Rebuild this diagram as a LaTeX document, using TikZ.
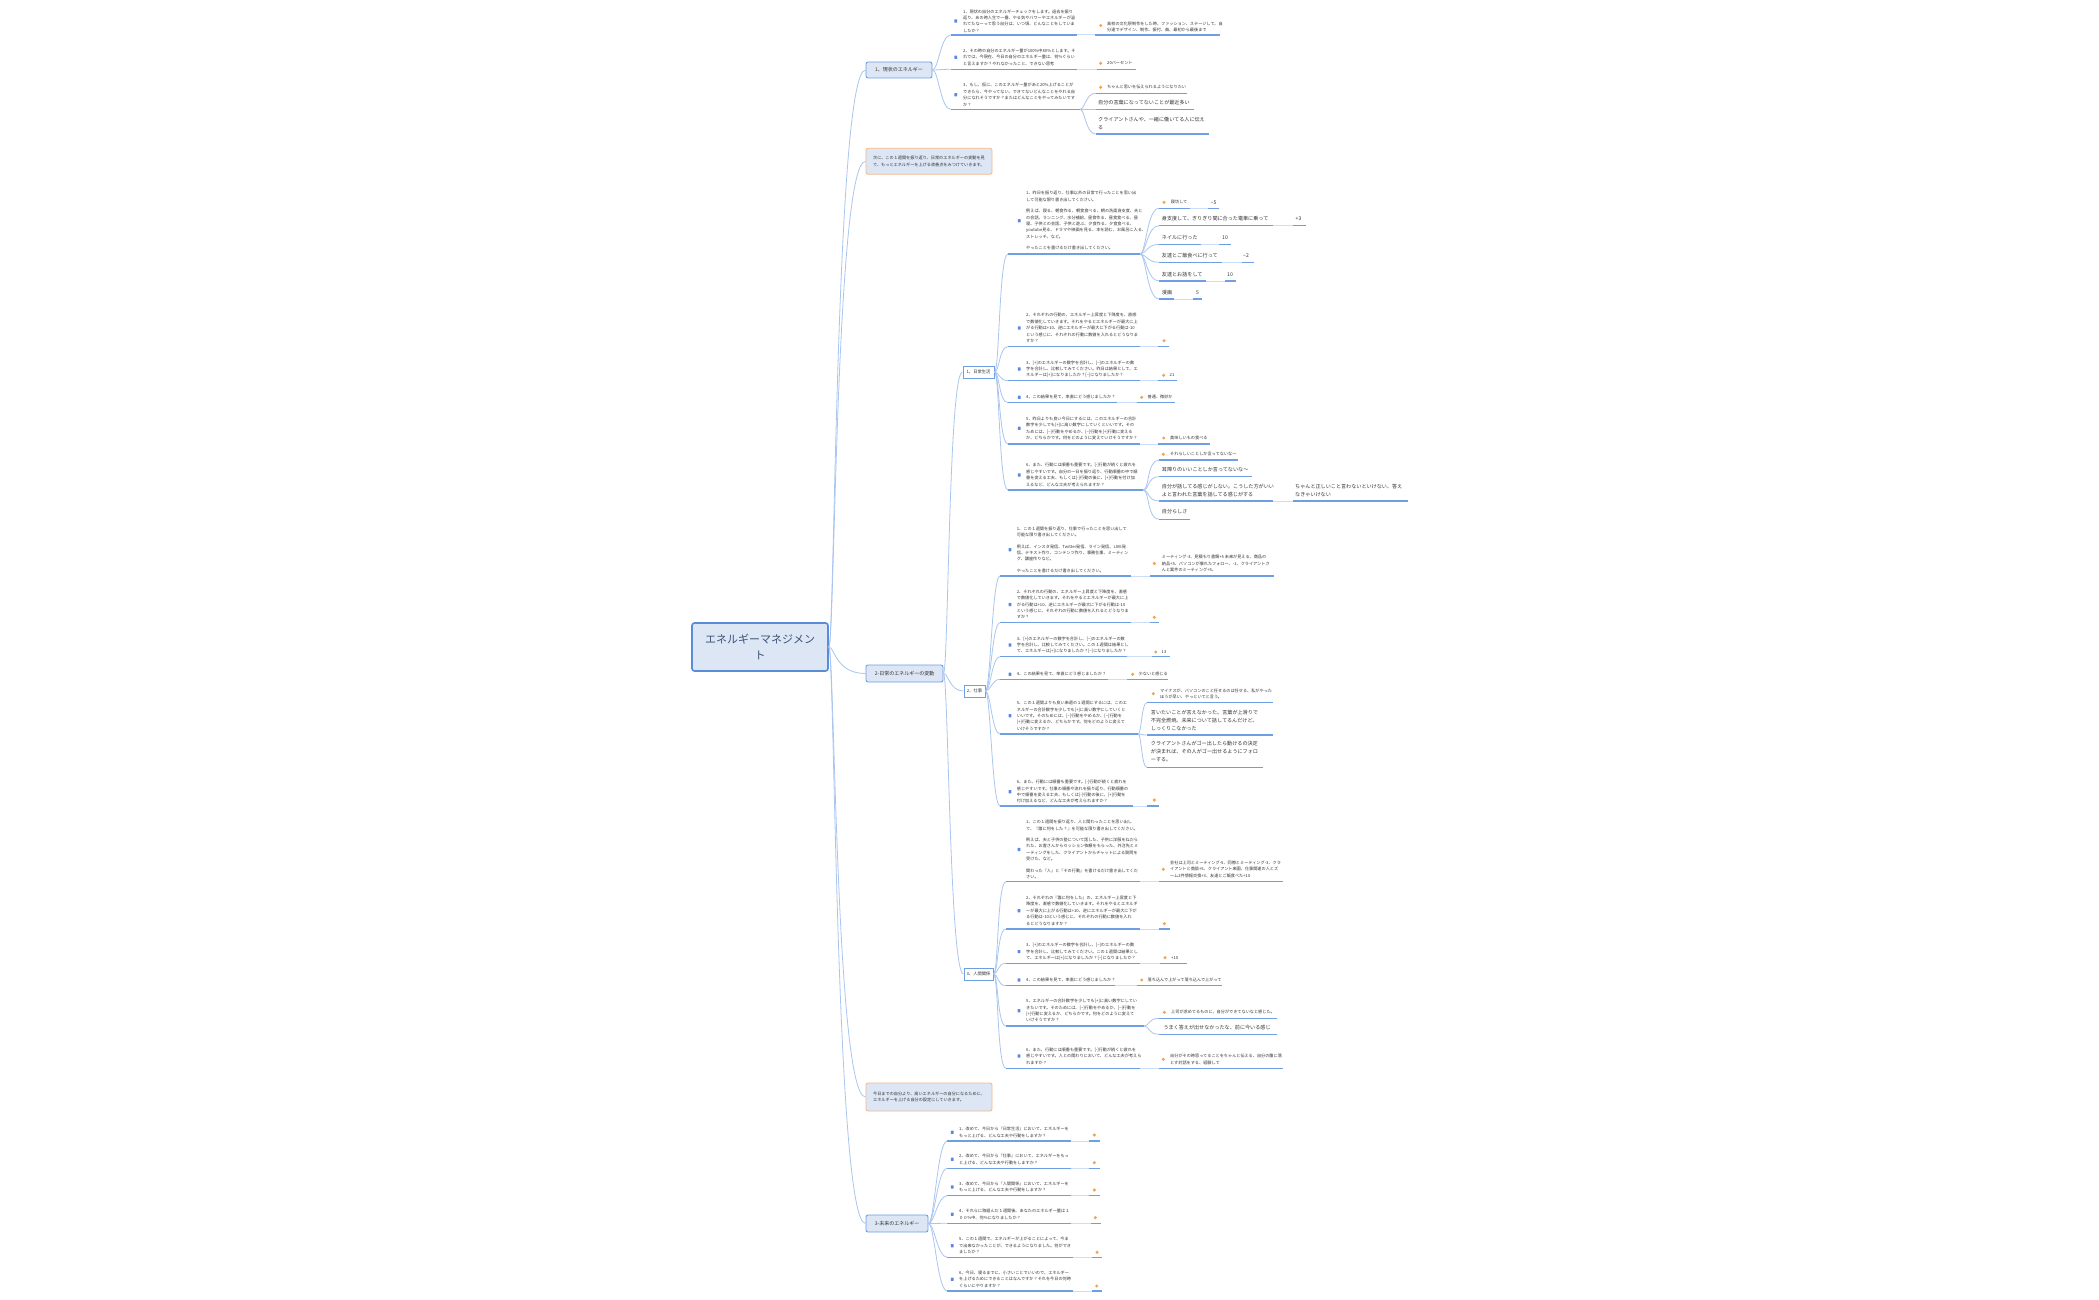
\documentclass[tikz,border=0pt]{standalone}
\usepackage{fontspec}
\setmainfont{Noto Sans CJK JP}
\definecolor{txt}{HTML}{333333}
\definecolor{boxf}{HTML}{DCE6F4}
\definecolor{boxd}{HTML}{6E9FE3}
\definecolor{rootd}{HTML}{5A8DD8}
\definecolor{mainc}{HTML}{A9C6EF}
\definecolor{ulc}{HTML}{6F9FE3}
\definecolor{lcc}{HTML}{CCDDF5}
\definecolor{oran}{HTML}{F2A44E}
\definecolor{orb}{HTML}{F5BA8A}
\definecolor{bicc}{HTML}{5C86E6}
\definecolor{ctext}{HTML}{3D5278}
\newcommand\fq{\fontsize{4.15}{6.4}\selectfont}
\newcommand\fbg{\fontsize{5.1}{8}\selectfont}
\newcommand\fl{\fontsize{5}{6}\selectfont}
\newcommand\fsb{\fontsize{4.3}{5}\selectfont}
\newcommand\fc{\fontsize{11}{16.5}\selectfont}
\tikzset{
 qt/.style={anchor=west,inner sep=0pt,align=left,font=\fq,text=txt},
 bt/.style={anchor=west,inner sep=0pt,align=left,font=\fbg,text=txt},
 ulw/.style={draw=ulc,line width=1.2pt},
 lcw/.style={draw=lcc,line width=1pt},
 cw/.style={draw=mainc,line width=0.8pt},
 bicon/.style={rectangle,fill=bicc,minimum width=2.8pt,minimum height=3.2pt,inner sep=0pt,rounded corners=0.4pt},
 oicon/.style={circle,fill=oran,minimum size=3.4pt,inner sep=0pt},
 topbox/.style={rectangle,rounded corners=2pt,fill=boxf,draw=boxd,line width=0.9pt,inner sep=0pt,font=\fl,text=txt},
 notebox/.style={rectangle,rounded corners=2pt,fill=boxf,draw=orb,line width=0.9pt,inner sep=0pt,font=\fq,text=txt,align=left},
 subbox/.style={rectangle,fill=white,draw=boxd,line width=1pt,inner sep=0pt,font=\fsb,text=txt},
}
\newcommand\UL[4]{\coordinate (#1l) at (#2,#4);\coordinate (#1r) at (#3,#4);\draw[ulw] (#1l) -- (#1r);}
\newcommand\LC[2]{\draw[lcw] (#1) -- (#2);}
\newcommand\CV[4]{\draw[cw] (#1) .. controls +(#3,0) and +(-#4,0) .. (#2);}
\begin{document}
\begin{tikzpicture}[x=1pt,y=-1pt]
\useasboundingbox (0,0) rectangle (2099,1300);
\fill[white] (0,0) rectangle (2099,1300);

% ---------- top level nodes
\node[rectangle,rounded corners=2.5pt,fill=boxf,draw=rootd,line width=1.6pt,minimum width=136pt,minimum height=48pt,inner sep=0pt,font=\fc,text=ctext,align=center] (root) at (760,647) {エネルギーマネジメン\\ト};
\node[topbox,minimum width=66pt,minimum height=16pt] (b1) at (899,70) {1、現状のエネルギー};
\node[notebox,minimum width=126pt,minimum height=26pt] (n1) at (929,161.3) {次に、この１週間を振り返り、日常のエネルギーの変動を見\\て、もっとエネルギーを上げる改善点をみつけていきます。};
\node[topbox,minimum width=77pt,minimum height=17pt] (b2) at (904.5,673.5) {2-日常のエネルギーの変動};
\node[notebox,minimum width=126pt,minimum height=28pt] (n2) at (929,1097) {今日までの自分より、高いエネルギーの自分になるために、\\エネルギーを上げる自分の設定にしていきます。};
\node[topbox,minimum width=62pt,minimum height=17pt] (b3) at (897,1223.5) {3-未来のエネルギー};
\node[subbox,minimum width=31pt,minimum height=12pt] (s1) at (978.5,372) {1、日常生活};
\node[subbox,minimum width=21pt,minimum height=12pt] (s2) at (974.5,691) {2、仕事};
\node[subbox,minimum width=29pt,minimum height=12pt] (s3) at (978.5,974) {3、人間関係};

\CV{root.east}{b1.west}{6}{30}
\CV{root.east}{n1.west}{6}{30}
\CV{root.east}{b2.west}{6}{30}
\CV{root.east}{n2.west}{6}{30}
\CV{root.east}{b3.west}{6}{30}
\CV{b2.east}{s1.west}{5}{14}
\CV{b2.east}{s2.west}{5}{14}
\CV{b2.east}{s3.west}{5}{14}

% ---------- branch 1
\UL{q11}{950.7}{1076.7}{35}
\node[bicon] (q11i) at (955.7,21) {};
\node[qt] (q11t) at (963,21) {1、現状の自分のエネルギーチェックをします。過去を振り\\返り、あの時人生で一番、やる気やパワーやエネルギーが溢\\れてたなーって思う自分は、いつ頃、どんなことをしていま\\したか？};
\UL{a11}{1095}{1220}{35}
\LC{q11r}{a11l}
\node[oicon] (a11i) at (1100.7,25.5) {};
\node[qt] (a11t) at (1107,27.2) {高校の文化祭制作をした時、ファッション、ステージして、自\\分達でデザイン、制作、振付、曲、最初から最後まで};

\UL{q12}{950.7}{1076.7}{69.3}
\node[bicon] (q12i) at (955.7,57.3) {};
\node[qt] (q12t) at (963,57.3) {2、その時の自分のエネルギー量が100\%中80\%とします。そ\\れでは、今現在、今日の自分のエネルギー量は、何\%ぐらい\\と言えますか？やれなかったこと、できない思考};
\UL{a12}{1096.7}{1136}{69.3}
\LC{q12r}{a12l}
\node[oicon] (a12i) at (1100.7,63.3) {};
\node[qt] (a12t) at (1107,63.3) {20パーセント};

\UL{q13}{950.7}{1080}{109.3}
\node[bicon] (q13i) at (955.7,94.7) {};
\node[qt] (q13t) at (963,94.7) {3、もし、仮に、このエネルギー量があと20\%上げることが\\できたら、今やってない、できてないどんなことをやれる自\\分になれそうですか？またはどんなことをやってみたいです\\か？};
\UL{a13}{1095.7}{1186.7}{93.3}
\node[oicon] (a13i) at (1100.7,87.3) {};
\node[qt] (a13t) at (1107,87.3) {ちゃんと思いを伝えられるようになりたい};
\UL{a14}{1095.7}{1194}{109.3}
\node[bt] (a14t) at (1098,102.7) {自分の言葉になってないことが最近多い};
\UL{a15}{1095.7}{1209}{134}
\node[bt] (a15t) at (1098,123.2) {クライアントさんや、一緒に働いてる人に伝え\\る};
\CV{q13r}{a13l}{5}{10}
\CV{q13r}{a14l}{5}{10}
\CV{q13r}{a15l}{5}{10}
\CV{b1.east}{q11l}{6}{10}
\CV{b1.east}{q12l}{6}{10}
\CV{b1.east}{q13l}{6}{10}

% ---------- 日常生活
\UL{d1}{1008}{1140}{254}
\node[bicon] (d1i) at (1019.3,220.8) {};
\node[qt] (d1t) at (1026,220.8) {1、昨日を振り返り、仕事以外の日常で行ったことを思い出\\して可能な限り書き出してください。\\[5pt]例えば、寝る、朝食作る、朝食食べる、朝の洗面身支度、夫と\\の会話、ランニング、水分補給、昼食作る、昼食食べる、昼\\寝、子供との会話、子供と遊ぶ、夕食作る、夕食食べる、\\youtube見る、ドラマや映画を見る、本を読む、お風呂に入る、\\ストレッチ、など。\\[5pt]やったことを書けるだけ書き出してください。};
\UL{d1a}{1159}{1190}{208.3}
\node[oicon] (d1ai) at (1164,202.3) {};
\node[qt] (d1at) at (1170.7,202.3) {寝坊して};
\UL{d1an}{1208}{1219.3}{208.3}
\LC{d1ar}{d1anl}
\node[bt] (d1ant) at (1210.5,202.3) {−5};
\UL{d1b}{1159}{1273.3}{225.7}
\node[bt] (d1bt) at (1161.7,218.7) {身支度して、ぎりぎり間に合った電車に乗って};
\UL{d1bn}{1292.7}{1306}{225.7}
\LC{d1br}{d1bnl}
\node[bt] (d1bnt) at (1295.5,218.7) {+3};
\UL{d1c}{1159}{1200.7}{244.3}
\node[bt] (d1ct) at (1161.7,237.7) {ネイルに行った};
\UL{d1cn}{1219}{1230.7}{244.3}
\LC{d1cr}{d1cnl}
\node[bt] (d1cnt) at (1222,237.7) {10};
\UL{d1d}{1159}{1221.7}{262.3}
\node[bt] (d1dt) at (1161.7,255.7) {友達とご飯食べに行って};
\UL{d1dn}{1241.7}{1254}{262.3}
\LC{d1dr}{d1dnl}
\node[bt] (d1dnt) at (1243,255.7) {−2};
\UL{d1e}{1159}{1206}{281}
\node[bt] (d1et) at (1161.7,274.3) {友達とお話をして};
\UL{d1en}{1225}{1236}{281}
\LC{d1er}{d1enl}
\node[bt] (d1ent) at (1227,274.3) {10};
\UL{d1f}{1159}{1174}{299}
\node[bt] (d1ft) at (1161.7,292.3) {漫画};
\UL{d1fn}{1192.7}{1201.7}{299}
\LC{d1fr}{d1fnl}
\node[bt] (d1fnt) at (1196,292.3) {5};
\CV{d1r}{d1al}{6}{12}
\CV{d1r}{d1bl}{6}{12}
\CV{d1r}{d1cl}{6}{12}
\CV{d1r}{d1dl}{6}{12}
\CV{d1r}{d1el}{6}{12}
\CV{d1r}{d1fl}{6}{12}

\UL{d2}{1008}{1140}{346.7}
\node[bicon] (d2i) at (1019.3,328) {};
\node[qt] (d2t) at (1026,328) {2、それぞれの行動の、エネルギー上昇度と下降度を、直感\\で数値化していきます。それをやるとエネルギーが最大に上\\がる行動は+10、逆にエネルギーが最大に下がる行動は-10\\という感じに、それぞれの行動に数値を入れるとどうなりま\\すか？};
\UL{d2a}{1158.3}{1169.3}{346.7}
\LC{d2r}{d2al}
\node[oicon] (d2ai) at (1164,340.7) {};

\UL{d3}{1008}{1140}{380.7}
\node[bicon] (d3i) at (1019.3,369) {};
\node[qt] (d3t) at (1026,369) {3、[+]のエネルギーの数字を合計し、[−]のエネルギーの数\\字を合計し、比較してみてください。昨日は結果として、エ\\ネルギーは[+]になりましたか？[−]になりましたか？};
\UL{d3a}{1158}{1176.7}{380.7}
\LC{d3r}{d3al}
\node[oicon] (d3ai) at (1163.7,375.3) {};
\node[qt] (d3at) at (1169.5,375.3) {21};

\UL{d4}{1008}{1116.7}{402.7}
\node[bicon] (d4i) at (1019.3,397.3) {};
\node[qt] (d4t) at (1026,397.3) {4、この結果を見て、率直にどう感じましたか？};
\UL{d4a}{1136.7}{1175}{402.7}
\LC{d4r}{d4al}
\node[oicon] (d4ai) at (1141.7,397.3) {};
\node[qt] (d4at) at (1147.5,397.3) {普通、微妙か};

\UL{d5}{1008}{1140}{444}
\node[bicon] (d5i) at (1019.3,428.3) {};
\node[qt] (d5t) at (1026,428.3) {5、昨日よりも良い今日にするには、このエネルギーの合計\\数字を少しでも[+]に高い数字にしていくといいです。その\\ためには、[−]行動をやめるか、[−]行動を[+]行動に変える\\か、どちらかです。何をどのように変えていけそうですか？};
\UL{d5a}{1158.3}{1210}{444}
\LC{d5r}{d5al}
\node[oicon] (d5ai) at (1163.7,438) {};
\node[qt] (d5at) at (1170,438) {美味しいもの食べる};

\UL{d6}{1008}{1143.3}{490}
\node[bicon] (d6i) at (1019.3,475) {};
\node[qt] (d6t) at (1026,475) {6、また、行動には順番も重要です。[-]行動が続くと疲れを\\感じやすいです。自分の一日を振り返り、行動順番の中で順\\番を変える工夫、もしくは[-]行動の後に、[+]行動を付け加\\えるなど、どんな工夫が考えられますか？};
\UL{d6a}{1159}{1238.3}{460}
\node[oicon] (d6ai) at (1163.3,454.3) {};
\node[qt] (d6at) at (1170,454.3) {それらしいことしか言ってないな〜};
\UL{d6b}{1159}{1251.7}{476.7}
\node[bt] (d6bt) at (1161.7,470) {耳障りのいいことしか言ってないな〜};
\UL{d6c}{1159}{1273.3}{501}
\node[bt] (d6ct) at (1161.7,490.3) {自分が話してる感じがしない。こうした方がいい\\よと言われた言葉を話してる感じがする};
\UL{d6d}{1293.3}{1407.7}{501}
\LC{d6cr}{d6dl}
\node[bt] (d6dt) at (1295,490.7) {ちゃんと正しいこと言わないといけない、答え\\なきゃいけない};
\UL{d6e}{1159}{1190}{519.3}
\node[bt] (d6et) at (1161.7,511.7) {自分らしさ};
\CV{d6r}{d6al}{6}{12}
\CV{d6r}{d6bl}{6}{12}
\CV{d6r}{d6cl}{6}{12}
\CV{d6r}{d6el}{6}{12}

\CV{s1.east}{d1l}{5}{9}
\CV{s1.east}{d2l}{5}{9}
\CV{s1.east}{d3l}{5}{9}
\CV{s1.east}{d4l}{5}{9}
\CV{s1.east}{d5l}{5}{9}
\CV{s1.east}{d6l}{5}{9}

% ---------- 仕事
\UL{w1}{1000}{1131}{576}
\node[bicon] (w1i) at (1010,549.7) {};
\node[qt] (w1t) at (1016.7,549.7) {1、この１週間を振り返り、仕事で行ったことを思い出して\\可能な限り書き出してください。\\[5pt]例えば、インスタ発信、Twitter発信、ライン発信、LIVE発\\信、テキスト作り、コンテンツ作り、事務仕事、ミーティン\\グ、講座作りなど。\\[5pt]やったことを書けるだけ書き出してください。};
\UL{w1a}{1150}{1274}{576}
\LC{w1r}{w1al}
\node[oicon] (w1ai) at (1154.3,563.5) {};
\node[qt] (w1at) at (1161.7,563.5) {ミーティング-3、見積もり書類+5 未来が見える、商品の\\納品+5、パソコンが壊れたフォロー、-1、クライアントさ\\んと案件のミーティング+5、};

\UL{w2}{1000}{1131}{622.7}
\node[bicon] (w2i) at (1010,604.5) {};
\node[qt] (w2t) at (1016.7,604.5) {2、それぞれの行動の、エネルギー上昇度と下降度を、直感\\で数値化していきます。それをやるとエネルギーが最大に上\\がる行動は+10、逆にエネルギーが最大に下がる行動は-10\\という感じに、それぞれの行動に数値を入れるとどうなりま\\すか？};
\UL{w2a}{1150}{1159.3}{622.7}
\LC{w2r}{w2al}
\node[oicon] (w2ai) at (1154.3,617.3) {};

\UL{w3}{1000}{1126.7}{656.7}
\node[bicon] (w3i) at (1010,645) {};
\node[qt] (w3t) at (1016.7,645) {3、[+]のエネルギーの数字を合計し、[−]のエネルギーの数\\字を合計し、比較してみてください。この１週間は結果とし\\て、エネルギーは[+]になりましたか？[−]になりましたか？};
\UL{w3a}{1151.7}{1170}{656.7}
\LC{w3r}{w3al}
\node[oicon] (w3ai) at (1155.7,652) {};
\node[qt] (w3at) at (1161.5,652) {13};

\UL{w4}{1000}{1108}{679.3}
\node[bicon] (w4i) at (1010,674.3) {};
\node[qt] (w4t) at (1016.7,674.3) {4、この結果を見て、率直にどう感じましたか？};
\UL{w4a}{1127}{1168.3}{679.3}
\LC{w4r}{w4al}
\node[oicon] (w4ai) at (1132.7,674.3) {};
\node[qt] (w4at) at (1138.5,674.3) {少ないと感じる};

\UL{w5}{1000}{1138.3}{734}
\node[bicon] (w5i) at (1010,715.8) {};
\node[qt] (w5t) at (1016.7,715.8) {5、この１週間よりも良い来週の１週間にするには、このエ\\ネルギーの合計数字を少しでも[+]に高い数字にしていくと\\いいです。そのためには、[−]行動をやめるか、[−]行動を\\{}[+]行動に変えるか、どちらかです。何をどのように変えて\\いけそうですか？};
\UL{w5a}{1146.7}{1272.7}{702.7}
\node[oicon] (w5ai) at (1153.3,693.7) {};
\node[qt] (w5at) at (1160,693.7) {マイナスが、パソコンのこと任せるのは任せる、私がやった\\ほうが早い、やっといてと言う。};
\UL{w5b}{1146.7}{1272.7}{735}
\node[bt] (w5bt) at (1150.7,720.3) {言いたいことが言えなかった。言葉が上滑りで\\不完全燃焼。未来について話してるんだけど、\\しっくりこなかった};
\UL{w5c}{1146.7}{1263.3}{767.3}
\node[bt] (w5ct) at (1150.7,751.4) {クライアントさんがゴー出したら動けるの決定\\が決まれば、その人がゴー出せるようにフォロ\\ーする。};
\CV{w5r}{w5al}{3}{5}
\CV{w5r}{w5bl}{3}{5}
\CV{w5r}{w5cl}{3}{5}

\UL{w6}{1000}{1133}{806}
\node[bicon] (w6i) at (1010,791.7) {};
\node[qt] (w6t) at (1016.7,791.7) {6、また、行動には順番も重要です。[-]行動が続くと疲れを\\感じやすいです。仕事の順番や流れを振り返り、行動順番の\\中で順番を変える工夫、もしくは[-]行動の後に、[+]行動を\\付け加えるなど、どんな工夫が考えられますか？};
\UL{w6a}{1146.7}{1159.3}{806}
\LC{w6r}{w6al}
\node[oicon] (w6ai) at (1154.3,800) {};

\CV{s2.east}{w1l}{5}{8}
\CV{s2.east}{w2l}{5}{8}
\CV{s2.east}{w3l}{5}{8}
\CV{s2.east}{w4l}{5}{8}
\CV{s2.east}{w5l}{5}{8}
\CV{s2.east}{w6l}{5}{8}

% ---------- 人間関係
\UL{h1}{1006}{1140}{881.7}
\node[bicon] (h1i) at (1019,849.4) {};
\node[qt] (h1t) at (1026,849.4) {1、この１週間を振り返り、人と関わったことを思い出し\\て、『誰に何をした？』を可能な限り書き出してください。\\[5pt]例えば、夫と子供の塾について話した、子供に洋服をねだら\\れた、お客さんからセッション依頼をもらった、外注先とミ\\ーティングをした、クライアントからチャットによる質問を\\受けた、など。\\[5pt]関わった『人』と『その行動』を書けるだけ書き出してくだ\\さい。};
\UL{h1a}{1159.3}{1283.3}{881.7}
\LC{h1r}{h1al}
\node[oicon] (h1ai) at (1163.3,869.3) {};
\node[qt] (h1at) at (1170,869.3) {会社は上司とミーティング-5、同僚とミーティング-3、クラ\\イアントと商談+5、クライアント来園、仕事関連の人とズ\\ーム2件情報交換+3、友達とご飯食べた+10};

\UL{h2}{1006}{1140}{929}
\node[bicon] (h2i) at (1019,910.7) {};
\node[qt] (h2t) at (1026,910.7) {2、それぞれの『誰に何をした』の、エネルギー上昇度と下\\降度を、直感で数値化していきます。それをやるとエネルギ\\ーが最大に上がる行動は+10、逆にエネルギーが最大に下が\\る行動は-10という感じに、それぞれの行動に数値を入れ\\るとどうなりますか？};
\UL{h2a}{1159.3}{1170}{929}
\LC{h2r}{h2al}
\node[oicon] (h2ai) at (1164.3,923.7) {};

\UL{h3}{1006}{1140}{963.3}
\node[bicon] (h3i) at (1019,951.6) {};
\node[qt] (h3t) at (1026,951.6) {3、[+]のエネルギーの数字を合計し、[−]のエネルギーの数\\字を合計し、比較してみてください。この１週間は結果とし\\て、エネルギーは[+]になりましたか？[−]になりましたか？};
\UL{h3a}{1160}{1186.7}{963.3}
\LC{h3r}{h3al}
\node[oicon] (h3ai) at (1165,957.7) {};
\node[qt] (h3at) at (1171,957.7) {+10};

\UL{h4}{1006}{1115}{985.7}
\node[bicon] (h4i) at (1019,980) {};
\node[qt] (h4t) at (1026,980) {4、この結果を見て、率直にどう感じましたか？};
\UL{h4a}{1136.7}{1221.7}{985.7}
\LC{h4r}{h4al}
\node[oicon] (h4ai) at (1141.7,980) {};
\node[qt] (h4at) at (1147.5,980) {落ち込んで上がって落ち込んで上がって};

\UL{h5}{1006}{1144}{1026}
\node[bicon] (h5i) at (1019,1010.7) {};
\node[qt] (h5t) at (1026,1010.7) {5、エネルギーの合計数字を少しでも[+]に高い数字にしてい\\きたいです。そのためには、[−]行動をやめるか、[−]行動を\\{}[+]行動に変えるか、どちらかです。何をどのように変えて\\いけそうですか？};
\UL{h5a}{1159.3}{1276.7}{1018.3}
\node[oicon] (h5ai) at (1164.3,1012.3) {};
\node[qt] (h5at) at (1171,1012.3) {上司が求めてるものに、自分ができてないなと感じた。};
\UL{h5b}{1159.3}{1276.7}{1034.3}
\node[bt] (h5bt) at (1163.3,1027.3) {うまく答えが出せなかったな、前に今いる感じ};
\CV{h5r}{h5al}{6}{12}
\CV{h5r}{h5bl}{6}{12}

\UL{h6}{1006}{1140}{1068.3}
\node[bicon] (h6i) at (1019,1056) {};
\node[qt] (h6t) at (1026,1056) {6、また、行動には順番も重要です。[-]行動が続くと疲れを\\感じやすいです。人との関わりにおいて、どんな工夫が考えら\\れますか？};
\UL{h6a}{1159.3}{1283.3}{1068.3}
\LC{h6r}{h6al}
\node[oicon] (h6ai) at (1163.3,1059.3) {};
\node[qt] (h6at) at (1170,1059.3) {自分がその時思ってることをちゃんと伝える、自分の腹に落\\とす対話をする、経験して};

\CV{s3.east}{h1l}{5}{9}
\CV{s3.east}{h2l}{5}{9}
\CV{s3.east}{h3l}{5}{9}
\CV{s3.east}{h4l}{5}{9}
\CV{s3.east}{h5l}{5}{9}
\CV{s3.east}{h6l}{5}{9}

% ---------- 未来
\UL{f1}{947.3}{1070.7}{1141}
\node[bicon] (f1i) at (952.3,1132.3) {};
\node[qt] (f1t) at (959,1132.3) {1、改めて、今日から『日常生活』において、エネルギーを\\もっと上げる、どんな工夫や行動をしますか？};
\UL{f1a}{1089.3}{1100}{1141}
\LC{f1r}{f1al}
\node[oicon] (f1ai) at (1094.3,1135) {};

\UL{f2}{947.3}{1070.7}{1168.3}
\node[bicon] (f2i) at (952.3,1159.3) {};
\node[qt] (f2t) at (959,1159.3) {2、改めて、今日から『仕事』において、エネルギーをもっ\\と上げる、どんな工夫や行動をしますか？};
\UL{f2a}{1089.3}{1100}{1168.3}
\LC{f2r}{f2al}
\node[oicon] (f2ai) at (1094.3,1162.7) {};

\UL{f3}{947.3}{1070.7}{1195.7}
\node[bicon] (f3i) at (952.3,1187) {};
\node[qt] (f3t) at (959,1187) {3、改めて、今日から『人間関係』において、エネルギーを\\もっと上げる、どんな工夫や行動をしますか？};
\UL{f3a}{1089.3}{1100}{1195.7}
\LC{f3r}{f3al}
\node[oicon] (f3ai) at (1094.3,1190) {};

\UL{f4}{947.3}{1070.7}{1223.3}
\node[bicon] (f4i) at (952.3,1214.3) {};
\node[qt] (f4t) at (959,1214.3) {4、それらに取組んだ１週間後、あなたのエネルギー量は１\\００\%中、何\%になりましたか？};
\UL{f4a}{1090.7}{1100.7}{1223.3}
\LC{f4r}{f4al}
\node[oicon] (f4ai) at (1095.3,1217.7) {};

\UL{f5}{947.3}{1073.3}{1257.3}
\node[bicon] (f5i) at (952.3,1245.7) {};
\node[qt] (f5t) at (959,1245.7) {5、この１週間で、エネルギーが上がることによって、今ま\\で出来なかったことが、できるようになりました。何ができ\\ましたか？};
\UL{f5a}{1091.7}{1101.7}{1257.3}
\LC{f5r}{f5al}
\node[oicon] (f5ai) at (1097,1252.3) {};

\UL{f6}{947.3}{1073.3}{1291}
\node[bicon] (f6i) at (952.3,1279.3) {};
\node[qt] (f6t) at (959,1279.3) {6、今日、寝るまでに、小さいことでいいので、エネルギー\\を上げるためにできることはなんですか？それを今日の何時\\ぐらいにやりますか？};
\UL{f6a}{1091.7}{1101.7}{1291}
\LC{f6r}{f6al}
\node[oicon] (f6ai) at (1096.7,1286) {};

\CV{b3.east}{f1l}{6}{10}
\CV{b3.east}{f2l}{6}{10}
\CV{b3.east}{f3l}{6}{10}
\CV{b3.east}{f4l}{6}{10}
\CV{b3.east}{f5l}{6}{10}
\CV{b3.east}{f6l}{6}{10}
\end{tikzpicture}
\end{document}
